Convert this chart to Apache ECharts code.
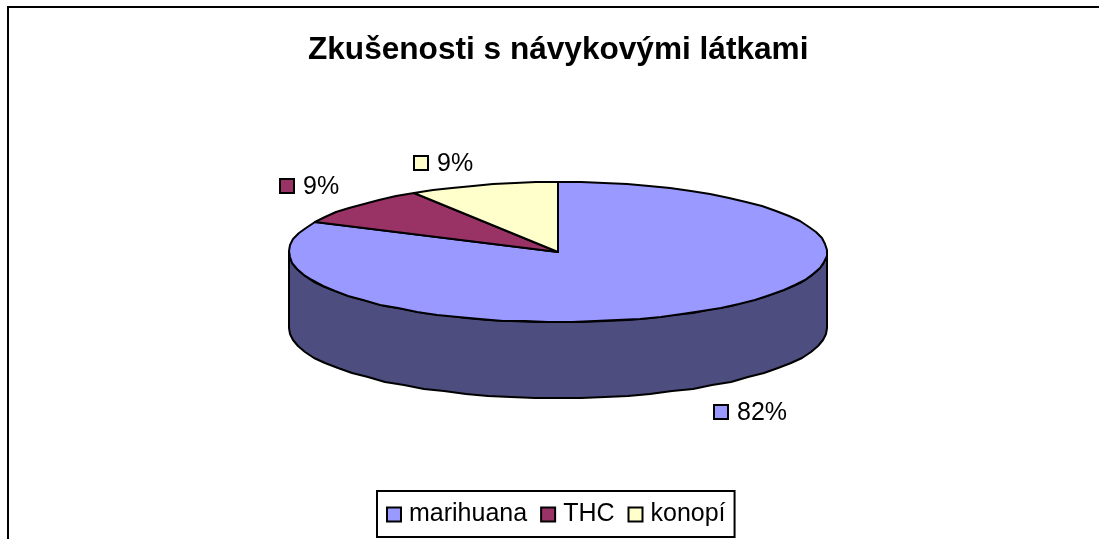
<!DOCTYPE html>
<html><head><meta charset="utf-8">
<style>html,body{margin:0;padding:0;background:#fff}#c{width:1099px;height:539px}</style>
<script src="https://cdn.jsdelivr.net/npm/echarts@6/dist/echarts.min.js"></script>
</head><body><div id="c"></div>
<script>
const categories = ['marihuana', 'THC', 'konopí'];
const values = [82, 9, 9];
const labels = ['82%', '9%', '9%'];
const faceColors = ['#9999FF', '#993366', '#FFFFCC'];
const wallColors = ['#4D4D80', '#4D1A33', '#808066'];
const titleText = 'Zkušenosti s návykovými látkami';

const total = values.reduce((a, b) => a + b, 0);
const DEPTH = 76 / 70;            // wall height in y-axis units
const labelOffset = [[19, 101], [-69, -20], [-62, -22]]; // px from rim at mid-angle
const FONT = '"Liberation Sans", Arial, sans-serif';

function point(api, deg, drop) {
  const r = deg * Math.PI / 180;
  const p = api.coord([Math.sin(r), Math.cos(r) - (drop || 0)]);
  return [Math.round(p[0]), Math.round(p[1])];
}
function arc(api, a0, a1, drop) {
  const n = Math.max(2, Math.ceil(Math.abs(a1 - a0) / 5));
  const pts = [];
  for (let i = 0; i <= n; i++) pts.push(point(api, a0 + (a1 - a0) * i / n, drop));
  return pts;
}
function renderSlice(idx) {
  return function (params, api) {
    const before = values.slice(0, idx).reduce((a, b) => a + b, 0);
    const a0 = before / total * 360, a1 = (before + values[idx]) / total * 360;
    const children = [];
    const line = { stroke: '#000', lineWidth: 2, lineJoin: 'round' };
    const wa = Math.max(a0, 90), wb = Math.min(a1, 270);
    if (wb > wa) {
      const pts = arc(api, wa, wb, 0).concat(arc(api, wb, wa, DEPTH));
      children.push({ type: 'polygon', shape: { points: pts },
        style: Object.assign({ fill: wallColors[idx] }, line) });
    }
    const pts = [api.coord([0, 0])].concat(arc(api, a0, a1, 0));
    children.push({ type: 'polygon', shape: { points: pts },
      style: Object.assign({ fill: faceColors[idx] }, line) });
    const mid = point(api, (a0 + a1) / 2, 0);
    const x = mid[0] + labelOffset[idx][0], y = mid[1] + labelOffset[idx][1];
    children.push({ type: 'rect', shape: { x: x - 7, y: y - 7, width: 14, height: 14 },
      style: { fill: faceColors[idx], stroke: '#000', lineWidth: 2 } });
    children.push({ type: 'text', x: x + 16, y: y + 1,
      style: { text: labels[idx], fill: '#000', font: '25px ' + FONT,
        align: 'left', verticalAlign: 'middle' } });
    return { type: 'group', children };
  };
}
const chart = echarts.init(document.getElementById('c'), null, { renderer: 'canvas' });
chart.setOption({
  animation: false,
  backgroundColor: '#fff',
  title: { text: titleText, left: 303, top: 29,
    textStyle: { fontFamily: FONT, fontWeight: 'bold', fontSize: 31.6, color: '#000' } },
  legend: {
    data: categories, left: 377, top: 491, padding: [11, 9, 10, 9],
    backgroundColor: '#fff', borderColor: '#000', borderWidth: 2, borderRadius: 0,
    icon: 'rect', itemWidth: 14, itemHeight: 14, itemGap: 13,
    itemStyle: { borderColor: '#000', borderWidth: 2 },
    textStyle: { fontFamily: FONT, fontSize: 25, color: '#000', padding: [0, 0, 0, 3] }
  },
  grid: { left: 289, width: 538, top: 182, height: 140 },
  xAxis: { type: 'value', min: -1, max: 1, show: false },
  yAxis: { type: 'value', min: -1, max: 1, show: false },
  graphic: [{ type: 'rect', z: -1, shape: { x: 8, y: 7, width: 1200, height: 600 },
    style: { fill: '#fff', stroke: '#000', lineWidth: 2 } }],
  series: categories.map((name, i) => ({
    type: 'custom', name, clip: false, renderItem: renderSlice(i),
    data: [[values[i]]], encode: { x: -1, y: -1 },
    itemStyle: { color: faceColors[i] }, silent: true
  }))
});
</script></body></html>
